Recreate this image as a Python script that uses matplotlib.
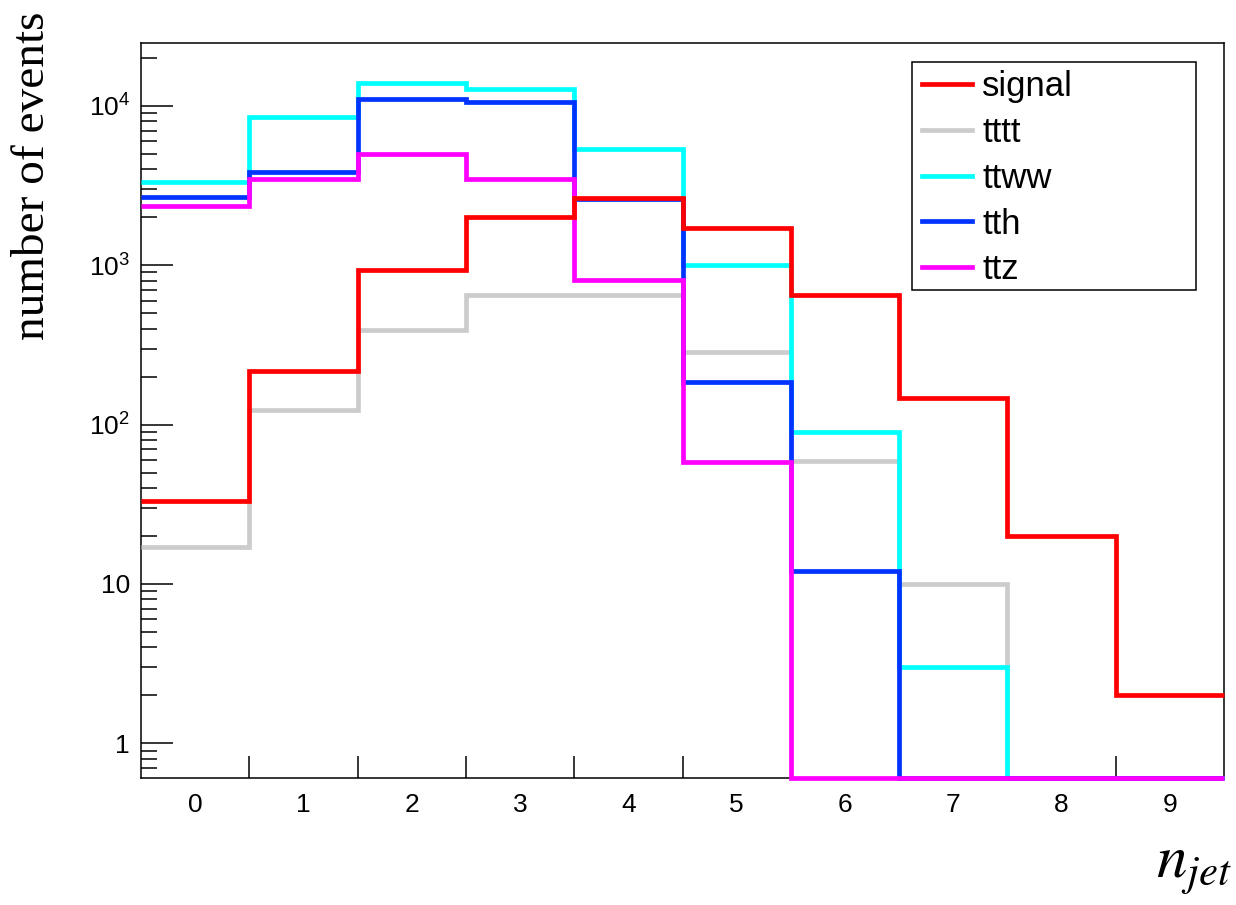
import numpy as np
import matplotlib
matplotlib.use('Agg')
import matplotlib.pyplot as plt
from matplotlib.patches import Rectangle
from matplotlib.lines import Line2D
from matplotlib.ticker import FixedLocator, LogLocator, NullFormatter, FixedFormatter

# ---- data ----
njet = [0, 1, 2, 3, 4, 5, 6, 7, 8, 9]
signal = [33, 217, 931, 2013, 2650, 1718, 649, 147, 20, 2]
tttt = [17, 123, 391, 646, 650, 284, 59, 10, 0, 0]
ttww = [3340, 8550, 13960, 12680, 5330, 1000, 90, 3, 0, 0]
tth = [2690, 3860, 11040, 10520, 2600, 184, 12, 0, 0, 0]
ttz = [2360, 3485, 4960, 3470, 806, 58, 0, 0, 0, 0]

series_names = ["signal", "tttt", "ttww", "tth", "ttz"]
series_vals = [signal, tttt, ttww, tth, ttz]
series_colors = ["#FF0000", "#CCCCCC", "#00FFFF", "#0033FF", "#FF00FF"]
draw_order = ["tttt", "ttww", "tth", "ttz", "signal"]

ytick_vals = [1, 10, 100, 1000, 10000]
ytick_labels = ["1", "10", r"$\mathregular{10^{2}}$", r"$\mathregular{10^{3}}$", r"$\mathregular{10^{4}}$"]

ymin, ymax = 0.608, 2.49e4

plt.rcParams['font.family'] = ['Liberation Sans', 'DejaVu Sans']

W, H = 1236, 905
fig = plt.figure(figsize=(W / 100, H / 100), dpi=100)
ax = fig.add_axes([141 / W, 1 - 777.7 / H, (1224 - 141) / W, (777.7 - 42.7) / H])

edges = np.arange(len(njet) + 1) - 0.5
lw = 3.4
for name in draw_order:
    i = series_names.index(name)
    vals = np.maximum(np.array(series_vals[i], dtype=float), ymin)
    ax.stairs(vals, edges, baseline=None, color=series_colors[i], linewidth=lw,
              clip_on=False, zorder=3 + draw_order.index(name))

ax.set_yscale('log')
ax.set_ylim(ymin, ymax)
ax.set_xlim(edges[0], edges[-1])

# y ticks
ax.yaxis.set_major_locator(FixedLocator(ytick_vals))
ax.yaxis.set_major_formatter(FixedFormatter(ytick_labels))
ax.yaxis.set_minor_locator(LogLocator(base=10, subs=np.arange(2, 10), numticks=20))
ax.yaxis.set_minor_formatter(NullFormatter())
ax.tick_params(axis='y', which='major', direction='in', length=23, width=1.1,
               labelsize=19, pad=8, right=False)
ax.tick_params(axis='y', which='minor', direction='in', length=11.5, width=1.1, right=False)

# x ticks: labels at bin centres, tick marks at bin edges
ax.set_xticks(njet)
ax.set_xticklabels([str(n) for n in njet])
ax.set_xticks(edges[1:-1], minor=True)
ax.tick_params(axis='x', which='major', length=0, labelsize=19, pad=11, top=False)
ax.tick_params(axis='x', which='minor', direction='in', length=15.5, width=1.1, top=False)

for sp in ax.spines.values():
    sp.set_linewidth(1.1)
    sp.set_zorder(2)

# axis titles
fig.text(33 / W, 1 - 176 / H, "number of events", rotation=90, ha='center', va='center',
         fontsize=34, family=['Liberation Serif'])
fig.text(1232 / W, 1 - 877 / H, r"$n_{jet}$", ha='right', va='baseline',
         fontsize=44, math_fontfamily='stix')

# legend box + legend
ax.add_patch(Rectangle((912 / W, 1 - 290 / H), (1196 - 912) / W, (290 - 62) / H,
                       transform=fig.transFigure, fill=True, facecolor='white',
                       edgecolor='black', linewidth=1.1, zorder=15, clip_on=False))
handles = [Line2D([], [], color=series_colors[i], linewidth=lw) for i in range(len(series_names))]
leg = ax.legend(handles, series_names, loc='upper left',
                bbox_to_anchor=(922 / W, 1 - 70 / H), bbox_transform=fig.transFigure,
                frameon=False, fontsize=25, handlelength=1.44, handletextpad=0.3,
                labelspacing=0.37, borderpad=0, borderaxespad=0)
leg.set_zorder(20)

fig.savefig('out.png', dpi=100)
